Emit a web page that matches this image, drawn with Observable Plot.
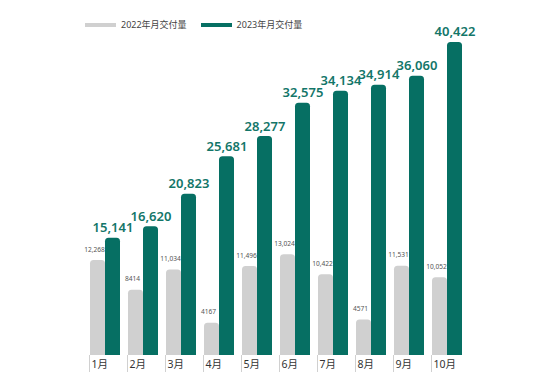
<!DOCTYPE html>
<html>
<head>
<meta charset="utf-8">
<script src="https://cdn.jsdelivr.net/npm/d3@7"></script>
<script src="https://cdn.jsdelivr.net/npm/@observablehq/plot@0.6"></script>
<style>
  html, body { margin: 0; padding: 0; background: #fff; }
  body { font-family: "Noto Sans", "Noto Sans CJK SC", sans-serif; }
  #wrap { position: relative; width: 550px; height: 378px; }
  #legend { position: absolute; left: 85px; top: 18px; display: flex; align-items: center; font-size: 9px; color: #444; z-index: 2; }
  #legend .item { display: flex; align-items: center; margin-right: 14px; }
  #legend .sw { width: 31px; height: 4px; margin-right: 5px; }
</style>
</head>
<body>
<div id="wrap"><div id="legend"></div></div>
<script>
const months = ["1月", "2月", "3月", "4月", "5月", "6月", "7月", "8月", "9月", "10月"];
const seriesNames = ["2022年月交付量", "2023年月交付量"];
const deliveries2022 = [12268, 8414, 11034, 4167, 11496, 13024, 10422, 4571, 11531, 10052];
const deliveries2023 = [15141, 16620, 20823, 25681, 28277, 32575, 34134, 34914, 36060, 40422];
const colors = ["#d0d0d0", "#066f63"];
const labelTeal = "#137669";

const data = months.flatMap((m, i) => [
  {month: m, series: seriesNames[0], value: deliveries2022[i]},
  {month: m, series: seriesNames[1], value: deliveries2023[i]}
]);
const fmt = v => v >= 10000 ? d3.format(",")(v) : String(v);

const legend = document.getElementById("legend");
seriesNames.forEach((s, i) => {
  const it = document.createElement("div");
  it.className = "item";
  it.innerHTML = `<span class="sw" style="background:${colors[i]}"></span><span>${s}</span>`;
  legend.appendChild(it);
});

const chart = Plot.plot({
  width: 550,
  height: 378,
  marginLeft: 86,
  marginRight: 84,
  marginTop: 20,
  marginBottom: 23,
  style: {fontFamily: '"Noto Sans", "Noto Sans CJK SC", sans-serif', background: "transparent", overflow: "visible"},
  fx: {domain: months, paddingInner: 0.16, paddingOuter: 0, label: null, axis: null},
  x: {domain: seriesNames, padding: 0.03, axis: null},
  y: {domain: [0, 43260], axis: null},
  color: {domain: seriesNames, range: colors},
  marks: [
    Plot.barY(data, {fx: "month", x: "series", y1: () => -2000, y2: "value", fill: "series", rx: 3.5, clip: true}),
    Plot.text(data.filter(d => d.series === seriesNames[0]), {
      fx: "month", x: "series", y: "value", text: d => fmt(d.value),
      dy: -11, dx: -3.5, fontSize: 6.6, fill: "#555"
    }),
    Plot.text(data.filter(d => d.series === seriesNames[1]), {
      fx: "month", x: "series", y: "value", text: d => fmt(d.value),
      dy: -6, lineAnchor: "bottom", fontSize: 13, fontWeight: 600, fill: labelTeal
    }),
    Plot.axisFx({anchor: "bottom", tickSize: 17, text: null, stroke: "#d0d0d0", dx: -16, label: null}),
    Plot.axisFx({anchor: "bottom", tickSize: 0, tickPadding: 5, textAnchor: "start", dx: -14, fontSize: 10.5, fill: "#333", label: null})
  ]
});
document.getElementById("wrap").prepend(chart);
chart.style.position = "absolute";
chart.style.left = "0";
chart.style.top = "0";
</script>
</body>
</html>
